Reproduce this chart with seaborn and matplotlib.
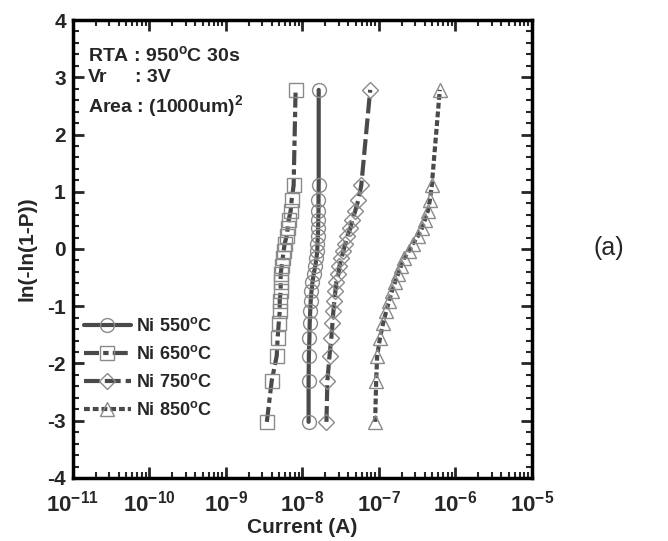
import numpy as np
import pandas as pd
import seaborn as sns
import matplotlib.pyplot as plt
from matplotlib.ticker import LogLocator, MultipleLocator, FixedLocator

# ln(-ln(1-P)) (mesmo conjunto para as quatro séries)
weibull_y = [-3.02, -2.30, -1.87, -1.55, -1.30, -1.09, -0.90, -0.735, -0.581,
             -0.436, -0.299, -0.166, -0.036, 0.094, 0.225, 0.361, 0.506,
             0.666, 0.855, 1.113, 2.78]

# corrente (A) de cada amostra
i_ni550 = [1.21e-8, 1.21e-8, 1.22e-8, 1.24e-8, 1.25e-8, 1.27e-8, 1.29e-8,
           1.32e-8, 1.36e-8, 1.41e-8, 1.48e-8, 1.53e-8, 1.57e-8, 1.58e-8,
           1.60e-8, 1.61e-8, 1.62e-8, 1.63e-8, 1.63e-8, 1.64e-8, 1.64e-8]
i_ni650 = [3.44e-9, 3.99e-9, 4.63e-9, 4.77e-9, 4.92e-9, 5.07e-9, 5.07e-9,
           5.22e-9, 5.22e-9, 5.22e-9, 5.38e-9, 5.54e-9, 5.71e-9, 5.89e-9,
           6.25e-9, 6.44e-9, 6.64e-9, 7.05e-9, 7.26e-9, 7.71e-9, 8.18e-9]
i_ni750 = [2.07e-8, 2.13e-8, 2.27e-8, 2.40e-8, 2.48e-8, 2.55e-8, 2.63e-8,
           2.71e-8, 2.79e-8, 2.97e-8, 3.06e-8, 3.25e-8, 3.45e-8, 3.66e-8,
           3.88e-8, 4.25e-8, 4.51e-8, 4.93e-8, 5.40e-8, 5.91e-8, 7.73e-8]
i_ni850 = [8.97e-8, 9.25e-8, 9.53e-8, 1.04e-7, 1.14e-7, 1.25e-7, 1.37e-7,
           1.49e-7, 1.63e-7, 1.79e-7, 1.95e-7, 2.14e-7, 2.48e-7, 2.80e-7,
           3.25e-7, 3.66e-7, 4.01e-7, 4.39e-7, 4.66e-7, 4.94e-7, 6.28e-7]

rotulos = ['Ni 550$^{\\mathbf{o}}$C', 'Ni 650$^{\\mathbf{o}}$C',
           'Ni 750$^{\\mathbf{o}}$C', 'Ni 850$^{\\mathbf{o}}$C']

sns.set_style('ticks')
plt.rcParams['font.family'] = ['Liberation Sans', 'DejaVu Sans']
plt.rcParams['font.weight'] = 'bold'
plt.rcParams['axes.unicode_minus'] = False
plt.rcParams['mathtext.fontset'] = 'custom'
plt.rcParams['mathtext.rm'] = 'Liberation Sans:bold'
plt.rcParams['mathtext.bf'] = 'Liberation Sans:bold'
plt.rcParams['mathtext.default'] = 'bf'

df = pd.DataFrame({
    'corrente': i_ni550 + i_ni650 + i_ni750 + i_ni850,
    'weibull': weibull_y * 4,
    'serie': [r for r in rotulos for _ in weibull_y],
})

estilos = {
    rotulos[0]: dict(marker='o', ms=10, linestyle='-'),
    rotulos[1]: dict(marker='s', ms=10, linestyle=(0, (3.6, 1.0, 1.3, 1.0))),
    rotulos[2]: dict(marker='D', ms=8.5, linestyle=(0, (3.8, 1.2))),
    rotulos[3]: dict(marker='^', ms=10, linestyle=(0, (1.4, 0.7))),
}

fig = plt.figure(figsize=(6.68, 5.41), dpi=100)
ax = fig.add_axes([0.109, 0.1165, 0.687, 0.8465])

for r in rotulos:
    sns.lineplot(data=df[df['serie'] == r], x='corrente', y='weibull',
                 sort=False, estimator=None, ax=ax, color='#4a4a4a',
                 linewidth=3, markerfacecolor='none', markeredgecolor='#8a8a8a',
                 markeredgewidth=1.0, label=r, legend=False, **estilos[r])

ax.set_xscale('log')
ax.set_xlim(1e-11, 1e-5)
ax.set_ylim(-4, 4)
ax.xaxis.set_major_locator(FixedLocator([10.0 ** k for k in range(-11, -4)]))
ax.xaxis.set_minor_locator(LogLocator(base=10, subs=np.arange(2, 10), numticks=20))
ax.set_xticklabels([r'$\mathbf{10^{%d}}$' % k for k in range(-11, -4)])
ax.yaxis.set_major_locator(MultipleLocator(1))
ax.yaxis.set_minor_locator(MultipleLocator(0.2))

ax.tick_params(which='both', direction='in', top=True, right=True)
ax.tick_params(which='major', length=8, width=2)
ax.tick_params(which='minor', length=4, width=1.5)
ax.tick_params(axis='x', which='major', labelsize=16, pad=9)
ax.tick_params(axis='y', which='major', labelsize=15, pad=5)
for s in ax.spines.values():
    s.set_linewidth(2.5)
    s.set_color('black')

ax.set_xlabel('Current (A)', fontsize=15, fontweight='bold', labelpad=1)
ax.set_ylabel('ln(-ln(1-P))', fontsize=15, fontweight='bold', labelpad=8)

ax.text(0.033, 0.945, 'RTA : 950$^{\\mathbf{o}}$C 30s', transform=ax.transAxes,
        fontsize=14, fontweight='bold', va='top')
ax.text(0.033, 0.893, 'Vr', transform=ax.transAxes, fontsize=14,
        fontweight='bold', va='top')
ax.text(0.135, 0.893, ': 3V', transform=ax.transAxes, fontsize=14,
        fontweight='bold', va='top')
ax.text(0.033, 0.841, 'Area : (1000um)$^{\\mathbf{2}}$', transform=ax.transAxes,
        fontsize=14, fontweight='bold', va='top')

ax.legend(loc='upper left', bbox_to_anchor=(0.0, 0.375), frameon=False,
          fontsize=13, handlelength=2.6, handletextpad=0.3, labelspacing=0.55,
          borderaxespad=0.2)

fig.text(0.912, 0.541, '(a)', fontsize=18, fontweight='normal', ha='center',
         va='center')

fig.savefig('out.png', dpi=100)
